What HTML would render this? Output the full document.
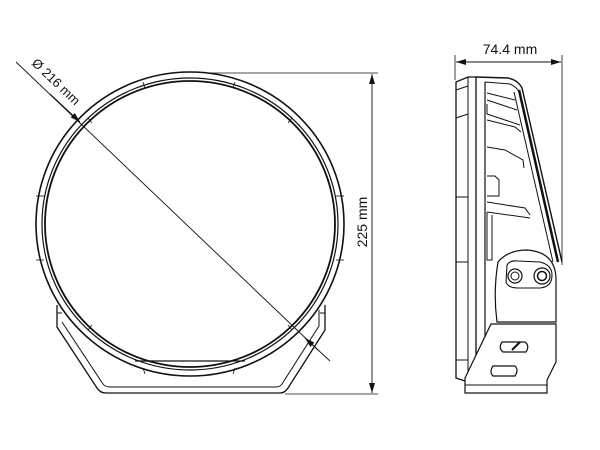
<!DOCTYPE html>
<html><head><meta charset="utf-8"><style>
html,body{margin:0;padding:0;background:#fff;}
svg{display:block;}
text{font-family:"Liberation Sans",sans-serif;fill:#111;}
</style></head><body>
<svg width="600" height="450" viewBox="0 0 600 450" xmlns="http://www.w3.org/2000/svg">
<defs>
<marker id="ar" viewBox="0 0 10 6" refX="10" refY="3" markerWidth="10" markerHeight="6" orient="auto-start-reverse" markerUnits="userSpaceOnUse">
<path d="M0,0 L10,3 L0,6 Z" fill="#111"/>
</marker>
</defs>
<g fill="none" stroke="#111">
<path d="M57,305 L57,327 L97,388 Q100,393 106,393 L280,393 Q285,393 288,388 L325,330 L325,305" stroke-width="1.3"/>
<path d="M62,322 L103,384 Q105,387 110,387 L276,387 Q280,387 282,384 L319,326 L319,310" stroke-width="1"/>
<line x1="57" y1="313" x2="62" y2="313" stroke-width="1"/>
<line x1="320" y1="313" x2="325" y2="313" stroke-width="1"/>
<ellipse cx="190" cy="224" rx="154" ry="152" stroke-width="1.6" fill="#fff"/>
<ellipse cx="190" cy="224" rx="148" ry="146" stroke-width="1.2"/>
<ellipse cx="190" cy="224" rx="145" ry="143" stroke-width="1.8"/>
<line x1="135" y1="361" x2="245" y2="361" stroke-width="1.2"/>
<g stroke-width="0.8">
<line x1="143" y1="82" x2="145" y2="88"/><line x1="235" y1="82" x2="233" y2="88"/>
<line x1="88" y1="118" x2="92" y2="123"/><line x1="292" y1="118" x2="288" y2="123"/>
<line x1="36" y1="196" x2="44" y2="196"/><line x1="344" y1="196" x2="336" y2="196"/>
<line x1="36" y1="260" x2="44" y2="260"/><line x1="344" y1="260" x2="336" y2="260"/>
<line x1="88" y1="330" x2="92" y2="325"/><line x1="292" y1="330" x2="288" y2="325"/>
<line x1="143" y1="368" x2="145" y2="374"/><line x1="235" y1="368" x2="233" y2="374"/>
</g>
<line x1="16" y1="62" x2="318" y2="350" stroke-width="0.9"/>
<line x1="50" y1="94" x2="80" y2="122" stroke-width="0.9" marker-end="url(#ar)"/>
<line x1="330" y1="361" x2="305" y2="338" stroke-width="0.9" marker-end="url(#ar)"/>
<line x1="205" y1="73" x2="378" y2="73" stroke-width="0.8"/>
<line x1="285" y1="394" x2="378" y2="394" stroke-width="0.8"/>
<line x1="372" y1="74" x2="372" y2="393" stroke-width="0.9" marker-start="url(#ar)" marker-end="url(#ar)"/>
<line x1="455" y1="55" x2="455" y2="80" stroke-width="0.8"/>
<line x1="562" y1="55" x2="562" y2="265" stroke-width="0.8"/>
<line x1="456" y1="62" x2="561" y2="62" stroke-width="0.9" marker-start="url(#ar)" marker-end="url(#ar)"/>
<path d="M456,82 L468,77 L476,77 L476,380 L468,382 L456,378 Z" stroke-width="1.3"/>
<line x1="456" y1="90" x2="468" y2="86"/>
<line x1="456" y1="118" x2="468" y2="114"/>
<line x1="456" y1="197" x2="468" y2="197"/>
<line x1="456" y1="262" x2="468" y2="262"/>
<line x1="456" y1="360" x2="468" y2="360"/>
<line x1="468" y1="77" x2="468" y2="382"/>
<path d="M476,77 L508,78 Q518,80 522,88 L562,262" stroke-width="1.4"/>
<path d="M519,90 L558,262" stroke-width="2.5"/>
<path d="M514,92 L553,262" stroke-width="1"/>
<line x1="485" y1="82" x2="485" y2="350" stroke-width="1.2"/>
<path d="M485,82 L510,84 Q517,87 519,92"/>
<path d="M487,93 L515,100"/><path d="M487,100 L517,110"/>
<path d="M487,104 L487,114 L520,125"/>
<path d="M487,120 L515,127 L521,132"/>
<path d="M487,147 L505,150 L523,160 L524,168"/>
<path d="M487,176 L495,176 L499,180 L499,196 L487,196"/>
<path d="M487,202 L525,208 L530,215"/>
<path d="M487,212 L530,218"/>
<path d="M487,212 L487,260 L492,260 L492,215"/>
<path d="M498,262 Q508,250 527,250 Q555,252 556,278 L556,322 L497,322 Q493,292 498,262 Z" fill="#fff" stroke-width="1.2"/>
<path d="M507,265 Q510,260 518,261 L540,262 Q552,265 552,275 Q552,287 540,288 L518,288 Q508,288 506,282 Z" stroke-width="1.1"/>
<circle cx="515" cy="276" r="7" stroke-width="1.2"/>
<circle cx="515" cy="276" r="4" stroke-width="1"/>
<circle cx="542" cy="276" r="8" stroke-width="1.2"/>
<circle cx="542" cy="276" r="4.5" stroke-width="1.5"/>
<path d="M491,324 L556,324 L556,362 L547,380 L547,393 L465,393 L465,378 Z" fill="#fff" stroke-width="1.2"/>
<line x1="465" y1="385" x2="547" y2="385" stroke-width="1"/>
<path d="M502,342 L525,342 Q530,346 526,352 L503,352 Q498,348 502,342 Z" stroke-width="1.2"/>
<path d="M512,350 L520,342" stroke-width="2"/>
<path d="M493,366 L515,366 Q519,370 515,376 L493,376 Q489,372 493,366 Z" stroke-width="1.2"/>
</g>
<text x="510" y="54" font-size="14" text-anchor="middle">74.4 mm</text>
<text transform="translate(367,222) rotate(-90)" font-size="14" text-anchor="middle">225 mm</text>
<text transform="translate(31,64) rotate(43.6)" font-size="13">Ø 216 mm</text>
</svg>
</body></html>
